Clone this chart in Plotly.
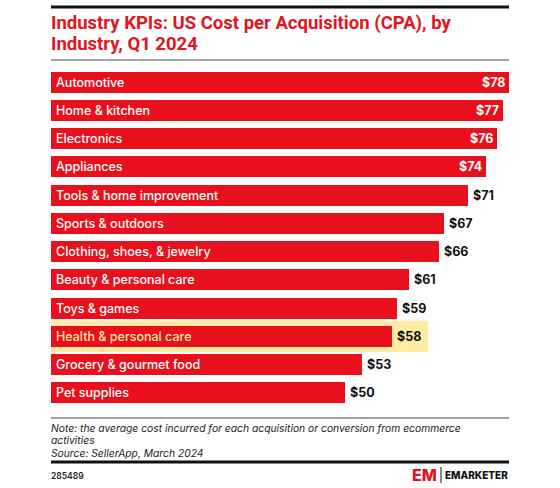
import plotly.graph_objects as go

categories = ["Automotive", "Home & kitchen", "Electronics", "Appliances",
              "Tools & home improvement", "Sports & outdoors",
              "Clothing, shoes, & jewelry", "Beauty & personal care",
              "Toys & games", "Health & personal care",
              "Grocery & gourmet food", "Pet supplies"]
values = [78, 77, 76, 74, 71, 67, 66, 61, 59, 58, 53, 50]
highlight = "Health & personal care"
inside_threshold = 72

title_lines = ["Industry KPIs: US Cost per Acquisition (CPA), by", "Industry, Q1 2024"]
note_lines = ["Note: the average cost incurred for each acquisition or conversion from ecommerce",
              "activities", "Source: SellerApp, March 2024"]
chart_id = "285489"

RED = "#E8101C"
FONT = "Inter"

W, H = 560, 488
L, R, T, B = 51, 51, 68, 81
PW, PH = W - L - R, H - T - B

fig = go.Figure()
fig.add_trace(go.Bar(
    x=values, y=categories, orientation="h",
    marker=dict(color=RED, line=dict(width=0)),
    width=0.745, hoverinfo="skip", showlegend=False,
))

annotations = []
for c, v in zip(categories, values):
    hl = (c == highlight)
    annotations.append(dict(
        x=0, y=c, xref="x", yref="y", text=c, showarrow=False,
        xanchor="left", xshift=3, yshift=0,
        font=dict(family=FONT, size=12.5, color="#FCE9A6" if hl else "white", weight=500),
    ))
    if v >= inside_threshold:
        annotations.append(dict(
            x=v, y=c, xref="x", yref="y", text=f"${v}", showarrow=False,
            xanchor="right", xshift=-2,
            font=dict(family=FONT, size=12.5, color="white", weight=700),
        ))
    else:
        annotations.append(dict(
            x=v, y=c, xref="x", yref="y", text=f"${v}", showarrow=False,
            xanchor="left", xshift=3,
            font=dict(family=FONT, size=12.5, color="#111111", weight=700),
        ))

def px_x(p):
    return (p - L) / PW

def px_y(p):
    return 1 - (p - T) / PH

for i, line in enumerate(title_lines):
    annotations.append(dict(
        x=px_x(49), y=px_y(23 + 21 * i), xref="paper", yref="paper",
        xanchor="left", yanchor="middle", text=line, showarrow=False,
        font=dict(family="Roboto", size=18.5, color="#E3141E", weight=700),
    ))
for i, line in enumerate(note_lines):
    annotations.append(dict(
        x=px_x(49), y=px_y(428 + 12.5 * i), xref="paper", yref="paper",
        xanchor="left", yanchor="middle", text=f"<i>{line}</i>", showarrow=False,
        font=dict(family=FONT, size=10.3, color="#222222"),
    ))
annotations.append(dict(
    x=px_x(49), y=px_y(476), xref="paper", yref="paper", xanchor="left", yanchor="middle",
    text=chart_id, showarrow=False,
    font=dict(family=FONT, size=8.5, color="#222222", weight=600),
))
annotations.append(dict(
    x=px_x(439), y=px_y(475), xref="paper", yref="paper", xanchor="right", yanchor="middle",
    text="EM", showarrow=False,
    font=dict(family=FONT, size=16, color=RED, weight=800),
))
annotations.append(dict(
    x=px_x(510), y=px_y(475.5), xref="paper", yref="paper", xanchor="right", yanchor="middle",
    text="EMARKETER", showarrow=False,
    font=dict(family=FONT, size=10, color="#111111", weight=800),
))

hl_idx = categories.index(highlight)
hl_val = values[hl_idx]
shapes = [
    dict(type="rect", xref="x", yref="y", x0=-0.85, x1=hl_val + 6.2,
         y0=hl_idx - 0.55, y1=hl_idx + 0.55, fillcolor="#FBEBA3",
         line=dict(width=0), layer="below"),
    dict(type="line", xref="paper", yref="paper", x0=px_x(51), x1=px_x(509),
         y0=px_y(7), y1=px_y(7), line=dict(color="#111111", width=3)),
    dict(type="line", xref="paper", yref="paper", x0=px_x(51), x1=px_x(509),
         y0=px_y(60), y1=px_y(60), line=dict(color="#888888", width=1.5)),
    dict(type="line", xref="paper", yref="paper", x0=px_x(51), x1=px_x(509),
         y0=px_y(418), y1=px_y(418), line=dict(color="#444444", width=1)),
    dict(type="line", xref="paper", yref="paper", x0=px_x(51), x1=px_x(509),
         y0=px_y(462), y1=px_y(462), line=dict(color="#111111", width=3)),
    dict(type="line", xref="paper", yref="paper", x0=px_x(441), x1=px_x(441),
         y0=px_y(467), y1=px_y(483), line=dict(color="#111111", width=1)),
]

fig.update_layout(
    width=W, height=H,
    margin=dict(l=L, r=R, t=T, b=B, pad=0),
    paper_bgcolor="white", plot_bgcolor="white",
    xaxis=dict(range=[0, 78], visible=False, fixedrange=True),
    yaxis=dict(categoryorder="array", categoryarray=categories,
               autorange=False, range=[len(categories) - 0.5, -0.5],
               visible=False, fixedrange=True),
    bargap=0,
    annotations=annotations, shapes=shapes,
)

fig.write_html("out.html", config={"displayModeBar": False},
               post_script="document.body.style.margin='0';document.body.style.padding='0';")
